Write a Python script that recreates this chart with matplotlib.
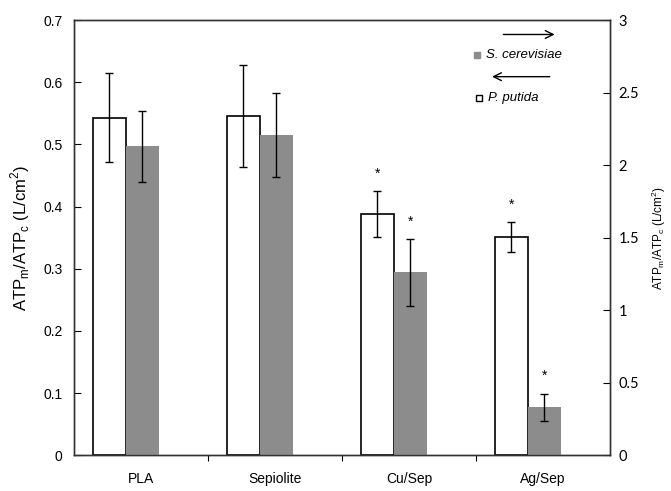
import numpy as np
import matplotlib
matplotlib.use("Agg")
import matplotlib.pyplot as plt

plt.rcParams['font.family'] = ['Liberation Sans', 'DejaVu Sans']

categories = ['PLA', 'Sepiolite', 'Cu/Sep', 'Ag/Sep']
# P. putida, left axis
putida = [0.543, 0.546, 0.388, 0.351]
putida_err = [0.072, 0.082, 0.037, 0.024]
putida_sig = [False, False, True, True]
# S. cerevisiae, right axis
cerev = [2.13, 2.21, 1.26, 0.33]
cerev_err = [0.245, 0.29, 0.23, 0.095]
cerev_sig = [False, False, True, True]

fig = plt.figure(figsize=(6.71, 4.91), dpi=100)
ax = fig.add_axes([0.110, 0.073, 0.799, 0.886])
ax2 = ax.twinx()

x = np.arange(len(categories))
w = 0.246
x1 = x - 0.235
x2 = x + 0.011

ax.bar(x1, putida, w, color='white', edgecolor='black', linewidth=1.2, zorder=2)
ax.errorbar(x1, putida, yerr=putida_err, fmt='none', ecolor='black',
            elinewidth=1, capsize=3, capthick=1, zorder=3)
ax2.bar(x2, cerev, w, color='#8c8c8c', edgecolor='none', zorder=2)
ax2.errorbar(x2, cerev, yerr=cerev_err, fmt='none', ecolor='black',
             elinewidth=1, capsize=3, capthick=1, zorder=3)

for xi, v, e, s in zip(x1, putida, putida_err, putida_sig):
    if s:
        ax.annotate('*', (xi, v + e), xytext=(0, 7.5), textcoords='offset points',
                    ha='center', va='bottom', fontsize=10)
for xi, v, e, s in zip(x2, cerev, cerev_err, cerev_sig):
    if s:
        ax2.annotate('*', (xi, v + e), xytext=(0, 7.5), textcoords='offset points',
                     ha='center', va='bottom', fontsize=10)

ax.set_xlim(-0.5, len(categories) - 0.5)
ax.set_ylim(0, 0.7)
ax.set_yticks(np.arange(0, 0.71, 0.1))
ax.set_yticklabels(['0'] + ['%.1f' % v for v in np.arange(0.1, 0.71, 0.1)])
ax2.set_ylim(0, 3)
ax2.set_yticks(np.arange(0, 3.01, 0.5))
ax2.set_yticklabels(['0', '0.5', '1', '1.5', '2', '2.5', '3'], family='Lato')

ax.set_xticks(np.arange(0.5, len(categories) - 0.5, 1), minor=False)
ax.set_xticklabels([])
ax.set_xticks(x, minor=True)
ax.set_xticklabels(categories, minor=True)
ax.tick_params(axis='x', which='minor', length=0, pad=12, labelsize=10)
ax.tick_params(axis='x', which='major', direction='out', length=4)
ax.tick_params(axis='y', direction='in', length=5, labelsize=10, pad=8)
ax2.tick_params(axis='y', direction='in', length=5, labelsize=10.5, pad=6)

for sp in list(ax.spines.values()) + list(ax2.spines.values()):
    sp.set_linewidth(1.0)
    sp.set_color('#333333')

ax.set_ylabel('ATP$_\\mathregular{m}$/ATP$_\\mathregular{c}$ (L/cm$^\\mathregular{2}$)', fontsize=12, labelpad=8)
ax2.set_ylabel('ATP$_\\mathregular{m}$/ATP$_\\mathregular{c}$ (L/cm$^\\mathregular{2}$)', fontsize=8.5,
               rotation=90, labelpad=8)

# legend with axis arrows
ax.annotate('', xy=(0.902, 0.967), xytext=(0.796, 0.967), xycoords='axes fraction',
            arrowprops=dict(arrowstyle='->', lw=1, color='black', mutation_scale=14))
ax.plot([0.752], [0.92], marker='s', ms=5, color='#8c8c8c', mec='#8c8c8c',
        transform=ax.transAxes, clip_on=False)
ax.text(0.768, 0.92, 'S. cerevisiae', style='italic', fontsize=9.5,
        transform=ax.transAxes, va='center')
ax.annotate('', xy=(0.775, 0.87), xytext=(0.893, 0.87), xycoords='axes fraction',
            arrowprops=dict(arrowstyle='->', lw=1, color='black', mutation_scale=14))
ax.plot([0.756], [0.822], marker='s', ms=5, color='white', mec='black', mew=1,
        transform=ax.transAxes, clip_on=False)
ax.text(0.772, 0.822, 'P. putida', style='italic', fontsize=9.5,
        transform=ax.transAxes, va='center')

fig.savefig('out.png', dpi=100)
